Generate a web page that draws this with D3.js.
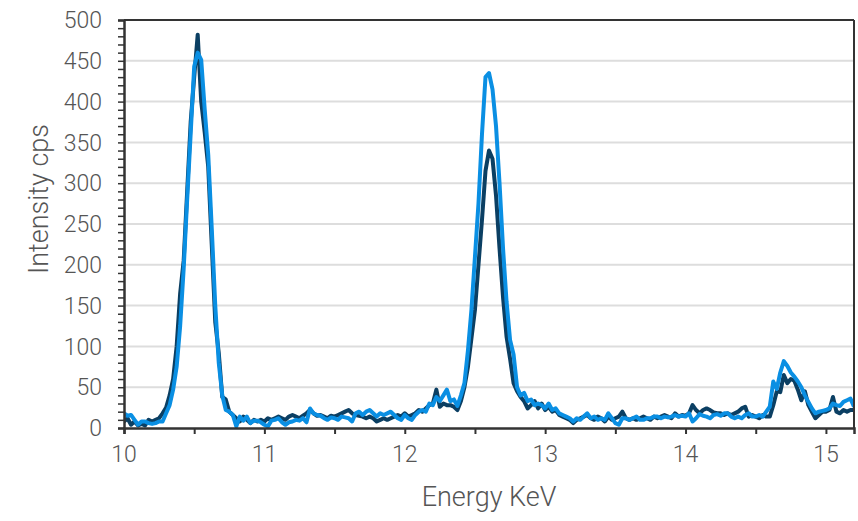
<!DOCTYPE html>
<html>
<head>
<meta charset="utf-8">
<script src="https://cdn.jsdelivr.net/npm/d3@7"></script>
<style>
  html, body { margin: 0; padding: 0; background: #fff; }
  svg { display: block; font-family: Roboto, "Open Sans", sans-serif; }
</style>
</head>
<body>
<div id="chart"></div>
<script>
// channel grid: 10.000 .. 15.200 keV, 0.025 keV per channel
const energyStart = 10;
const energyStep = 0.025;

// measured spectrum A (dark line), 8 channels per row = 0.2 keV
const seriesDark = [
  8, 12, 4, 8, 3, 5, 3, 10,
  8, 10, 12, 18, 25, 40, 60, 100,
  165, 205, 290, 375, 430, 482, 400, 362,
  320, 225, 130, 92, 38, 35, 20, 16,
  12, 8, 14, 10, 6, 10, 8, 10,
  8, 12, 10, 12, 14, 12, 10, 14,
  16, 14, 12, 15, 18, 22, 18, 15,
  16, 14, 12, 15, 14, 16, 18, 20,
  22, 18, 16, 15, 14, 12, 14, 12,
  8, 10, 12, 10, 12, 14, 16, 14,
  18, 14, 16, 18, 22, 20, 24, 28,
  30, 47, 26, 30, 28, 28, 26, 22,
  33, 50, 75, 110, 145, 200, 255, 315,
  340, 330, 285, 220, 160, 112, 85, 55,
  45, 38, 33, 24, 28, 33, 24, 30,
  22, 26, 20, 22, 16, 14, 12, 10,
  6, 10, 12, 14, 16, 12, 10, 14,
  12, 8, 14, 10, 12, 14, 20, 12,
  10, 12, 10, 12, 14, 12, 10, 14,
  12, 14, 16, 14, 12, 18, 14, 16,
  15, 18, 28, 22, 18, 22, 24, 22,
  19, 18, 18, 16, 18, 16, 18, 20,
  24, 26, 14, 16, 14, 12, 16, 14,
  14, 28, 45, 44, 65, 55, 60, 58,
  47, 34, 45, 28, 20, 12, 16, 20,
  20, 22, 38, 20, 18, 22, 20, 22,
  22
];

// measured spectrum B (light blue line)
const seriesLight = [
  18, 15, 16, 10, 4, 8, 8, 6,
  5, 6, 8, 8, 18, 28, 47, 75,
  125, 195, 280, 361, 443, 460, 451, 390,
  335, 245, 150, 80, 40, 22, 20, 16,
  2, 14, 9, 14, 6, 9, 9, 7,
  4, 2, 9, 10, 12, 7, 4, 7,
  8, 10, 9, 12, 7, 24, 18, 16,
  15, 12, 10, 13, 12, 10, 14, 13,
  12, 8, 18, 20, 16, 20, 22, 18,
  14, 18, 16, 18, 20, 16, 12, 10,
  16, 12, 10, 16, 20, 22, 20, 30,
  28, 38, 33, 40, 47, 33, 35, 27,
  40, 55, 95, 145, 210, 275, 360, 430,
  435, 415, 370, 300, 220, 155, 108, 90,
  50, 40, 43, 33, 35, 28, 30, 28,
  24, 30, 22, 24, 18, 16, 14, 12,
  8, 12, 10, 14, 18, 12, 14, 10,
  12, 10, 18, 12, 6, 4, 12, 12,
  10, 12, 14, 10, 10, 12, 12, 14,
  14, 12, 14, 13, 14, 16, 14, 15,
  14, 18, 8, 12, 17, 15, 14, 12,
  16, 17, 15, 18, 18, 14, 12, 14,
  12, 16, 18, 14, 14, 16, 14, 20,
  26, 57, 48, 68, 82, 76, 68, 63,
  57, 50, 40, 32, 24, 18, 20, 21,
  22, 24, 30, 28, 27, 32, 34, 36,
  26
];

const xTickValues = [10, 11, 12, 13, 14, 15];
const yTickValues = [0, 50, 100, 150, 200, 250, 300, 350, 400, 450, 500];

const width = 858;
const height = 521;
const margin = { top: 20, right: 4, bottom: 93, left: 124 };

const energy = seriesDark.map((d, i) => +(energyStart + i * energyStep).toFixed(3));

const x = d3.scaleLinear().domain([10, 15.2]).range([margin.left, width - margin.right]);
const y = d3.scaleLinear().domain([0, 500]).range([height - margin.bottom, margin.top]);

const svg = d3.select("#chart")
  .append("svg")
  .attr("width", width)
  .attr("height", height);

svg.append("defs").append("clipPath")
  .attr("id", "plot-clip")
  .append("rect")
  .attr("x", x(10))
  .attr("y", y(500) - 10)
  .attr("width", x(15.2) - x(10))
  .attr("height", y(0) - y(500) + 10);

// horizontal gridlines
svg.append("g")
  .selectAll("line")
  .data(yTickValues.filter((v) => v > 0 && v < 500))
  .join("line")
  .attr("x1", x(10))
  .attr("x2", x(15.2))
  .attr("y1", (d) => y(d))
  .attr("y2", (d) => y(d))
  .attr("stroke", "#dddddd")
  .attr("stroke-width", 2);

// spectra
const line = d3.line()
  .x((d, i) => x(energy[i]))
  .y((d) => y(d));

const lines = svg.append("g").attr("clip-path", "url(#plot-clip)");

lines.append("path")
  .datum(seriesDark)
  .attr("fill", "none")
  .attr("stroke", "#0b3f63")
  .attr("stroke-width", 4)
  .attr("stroke-linejoin", "round")
  .attr("d", line);

lines.append("path")
  .datum(seriesLight)
  .attr("fill", "none")
  .attr("stroke", "#0a8fe3")
  .attr("stroke-width", 4)
  .attr("stroke-linejoin", "round")
  .attr("d", line);

// frame: top and right
svg.append("line")
  .attr("x1", x(10)).attr("x2", x(15.2))
  .attr("y1", y(500)).attr("y2", y(500))
  .attr("stroke", "#333").attr("stroke-width", 2);
svg.append("line")
  .attr("x1", x(15.2)).attr("x2", x(15.2))
  .attr("y1", y(500)).attr("y2", y(0))
  .attr("stroke", "#333").attr("stroke-width", 2);

// y axis with minor ticks every 10
const yAxis = svg.append("g")
  .attr("transform", `translate(${x(10)},0)`)
  .call(d3.axisLeft(y).tickValues(d3.range(0, 501, 10)).tickSize(6).tickFormat(""));
yAxis.select(".domain").attr("stroke", "#333").attr("stroke-width", 2.5);
yAxis.selectAll(".tick line").attr("stroke", "#333").attr("stroke-width", 1.5);

svg.append("g")
  .selectAll("text")
  .data(yTickValues)
  .join("text")
  .attr("x", x(10) - 22)
  .attr("y", (d) => y(d))
  .attr("dy", "0.36em")
  .attr("text-anchor", "end")
  .attr("fill", "#555")
  .style("font-size", "23px")
  .style("font-weight", 300)
  .text((d) => d);

// x axis, ticks at every 0.5
const xAxis = svg.append("g")
  .attr("transform", `translate(0,${y(0)})`)
  .call(d3.axisBottom(x).tickValues(d3.range(10, 15.01, 0.5)).tickSize(6).tickFormat(""));
xAxis.select(".domain").attr("stroke", "#333").attr("stroke-width", 2.5);
xAxis.selectAll(".tick line").attr("stroke", "#333").attr("stroke-width", 2);

svg.append("g")
  .selectAll("text")
  .data(xTickValues)
  .join("text")
  .attr("x", (d) => x(d))
  .attr("y", y(0) + 34)
  .attr("text-anchor", "middle")
  .attr("fill", "#555")
  .style("font-size", "23px")
  .style("font-weight", 300)
  .text((d) => d);

// axis titles
svg.append("text")
  .attr("x", 489)
  .attr("y", 506)
  .attr("text-anchor", "middle")
  .attr("fill", "#555")
  .style("font-size", "27px")
  .style("font-weight", 300)
  .text("Energy KeV");

svg.append("text")
  .attr("transform", `translate(48,${(y(0) + y(500)) / 2 - 25}) rotate(-90)`)
  .attr("text-anchor", "middle")
  .attr("fill", "#555")
  .style("font-size", "27px")
  .style("font-weight", 300)
  .text("Intensity cps");
</script>
</body>
</html>
